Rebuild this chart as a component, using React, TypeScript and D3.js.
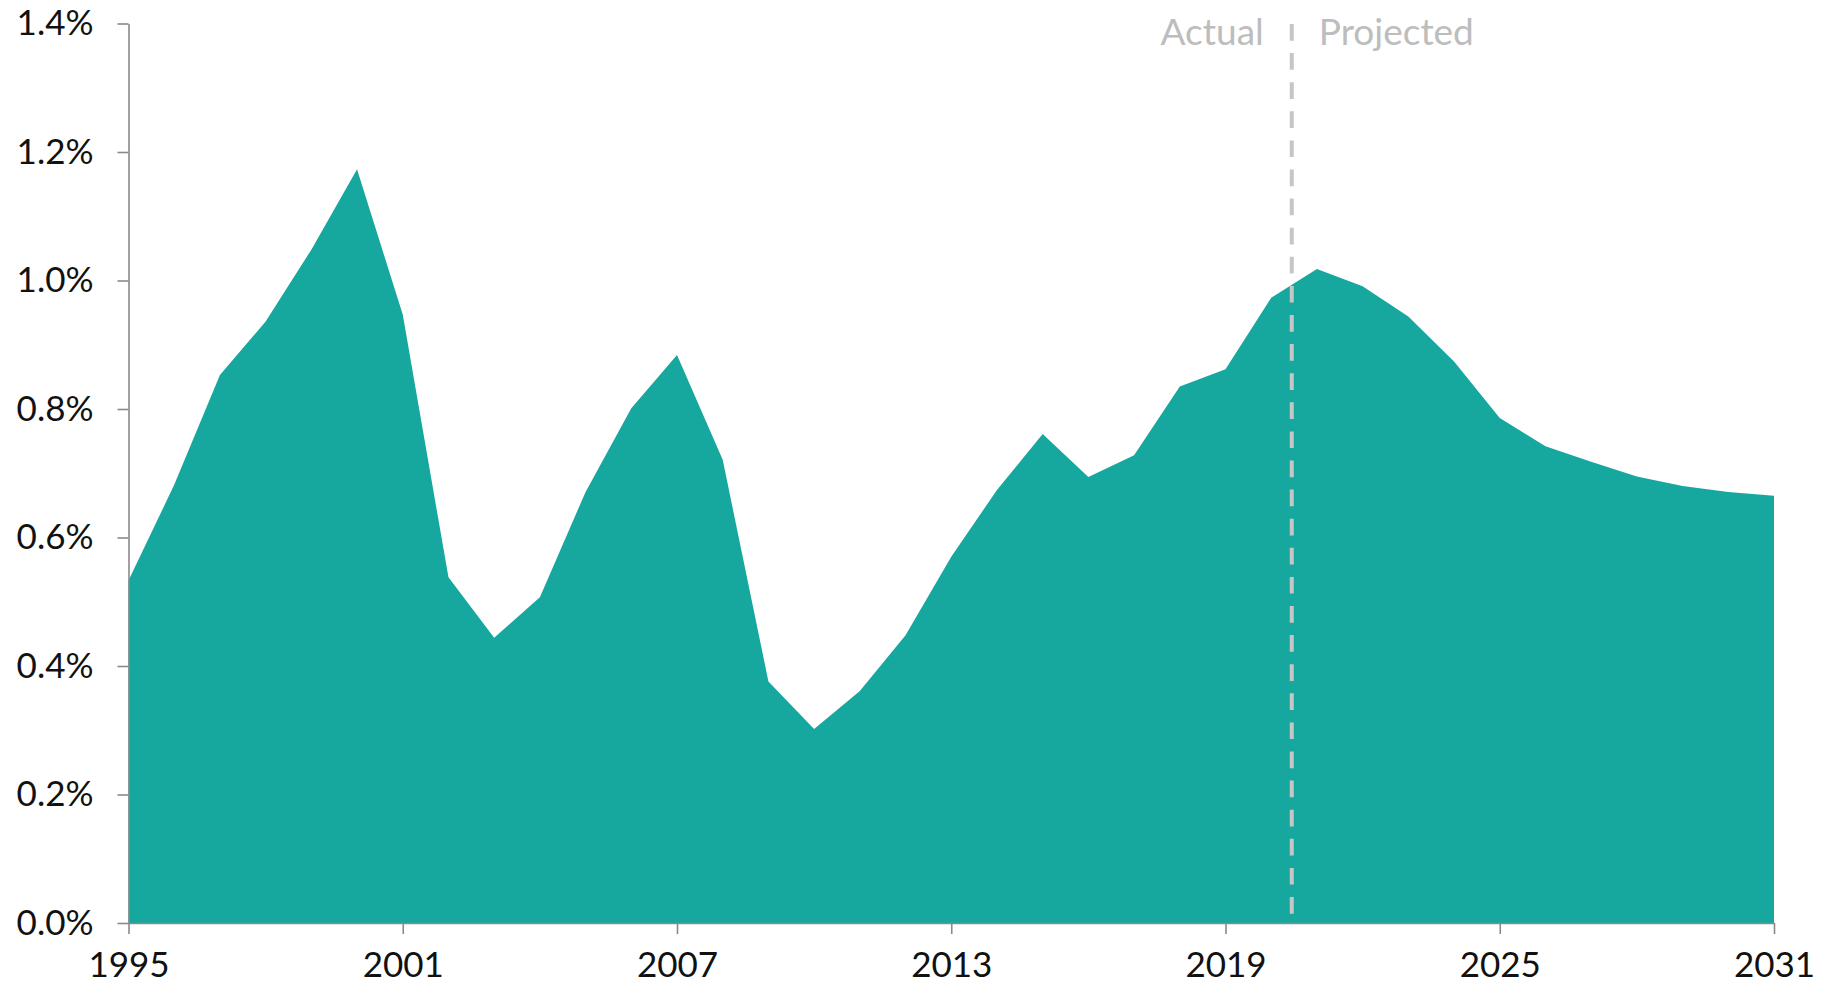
import React, { useEffect, useRef } from "react";
import * as d3 from "d3";

// years on the x axis
const years = [
  1995, 1996, 1997, 1998, 1999, 2000, 2001, 2002, 2003, 2004, 2005, 2006,
  2007, 2008, 2009, 2010, 2011, 2012, 2013, 2014, 2015, 2016, 2017, 2018,
  2019, 2020, 2021, 2022, 2023, 2024, 2025, 2026, 2027, 2028, 2029, 2030,
  2031,
];

// share (%)
const values = [
  0.533, 0.682, 0.853, 0.936, 1.048, 1.173, 0.947, 0.538, 0.444, 0.507,
  0.671, 0.801, 0.884, 0.721, 0.376, 0.302, 0.361, 0.448, 0.57, 0.674, 0.761,
  0.694, 0.728, 0.835, 0.862, 0.973, 1.018, 0.991, 0.944, 0.874, 0.786,
  0.742, 0.718, 0.695, 0.68, 0.671, 0.665,
];

const xTicks = [1995, 2001, 2007, 2013, 2019, 2025, 2031];
const yTicks = [0, 0.2, 0.4, 0.6, 0.8, 1.0, 1.2, 1.4];
const splitYear = 2020.45;
const splitLabels = ["Actual", "Projected"];

export default function App() {
  const ref = useRef<SVGSVGElement>(null);

  useEffect(() => {
    document.body.style.margin = "0";
    const width = 1831;
    const height = 987;
    const margin = { top: 23.5, right: 57, bottom: 64, left: 128.5 };
    const font = "Lato, 'Noto Sans', sans-serif";

    const svg = d3.select(ref.current).attr("width", width).attr("height", height);
    svg.selectAll("*").remove();

    const x = d3
      .scaleLinear()
      .domain([1995, 2031])
      .range([margin.left, width - margin.right]);
    const y = d3
      .scaleLinear()
      .domain([0, 1.4])
      .range([height - margin.bottom, margin.top]);

    const data = years.map((yr, i) => ({ yr, v: values[i] }));

    // area
    const area = d3
      .area<{ yr: number; v: number }>()
      .x((d) => x(d.yr))
      .y0(y(0))
      .y1((d) => y(d.v));

    svg.append("path").datum(data).attr("d", area).attr("fill", "#16a89e");

    // dashed split line
    svg
      .append("line")
      .attr("x1", x(splitYear))
      .attr("x2", x(splitYear))
      .attr("y1", 24)
      .attr("y2", y(0) - 9)
      .attr("stroke", "#c6c6c6")
      .attr("stroke-width", 4)
      .attr("stroke-dasharray", "16.7,12.4");

    svg
      .append("text")
      .attr("x", x(splitYear) - 28)
      .attr("y", 45)
      .attr("text-anchor", "end")
      .attr("font-family", font)
      .attr("font-size", 37)
      .attr("fill", "#bdbdbd")
      .text(splitLabels[0]);

    svg
      .append("text")
      .attr("x", x(splitYear) + 27)
      .attr("y", 45)
      .attr("text-anchor", "start")
      .attr("font-family", font)
      .attr("font-size", 37)
      .attr("fill", "#bdbdbd")
      .text(splitLabels[1]);

    // x axis
    const gx = svg
      .append("g")
      .attr("transform", `translate(0,${y(0)})`)
      .call(
        d3
          .axisBottom(x)
          .tickValues(xTicks)
          .tickFormat((d) => String(d))
          .tickSize(11)
          .tickPadding(18)
          .tickSizeOuter(0)
      );

    // y axis
    const gy = svg
      .append("g")
      .attr("transform", `translate(${margin.left},0)`)
      .call(
        d3
          .axisLeft(y)
          .tickValues(yTicks)
          .tickFormat((d) => `${(+d).toFixed(1)}%`)
          .tickSize(11)
          .tickPadding(24)
          .tickSizeOuter(0)
      );

    [gx, gy].forEach((g) => {
      g.select(".domain").attr("stroke", "#8a8a8a").attr("stroke-width", 1.6);
      g.selectAll(".tick line").attr("stroke", "#8a8a8a").attr("stroke-width", 1.6);
      g.selectAll(".tick text")
        .attr("fill", "#111")
        .attr("font-family", font)
        .attr("font-size", 35);
    });
  }, []);

  return <svg ref={ref} style={{ display: "block" }}></svg>;
}
